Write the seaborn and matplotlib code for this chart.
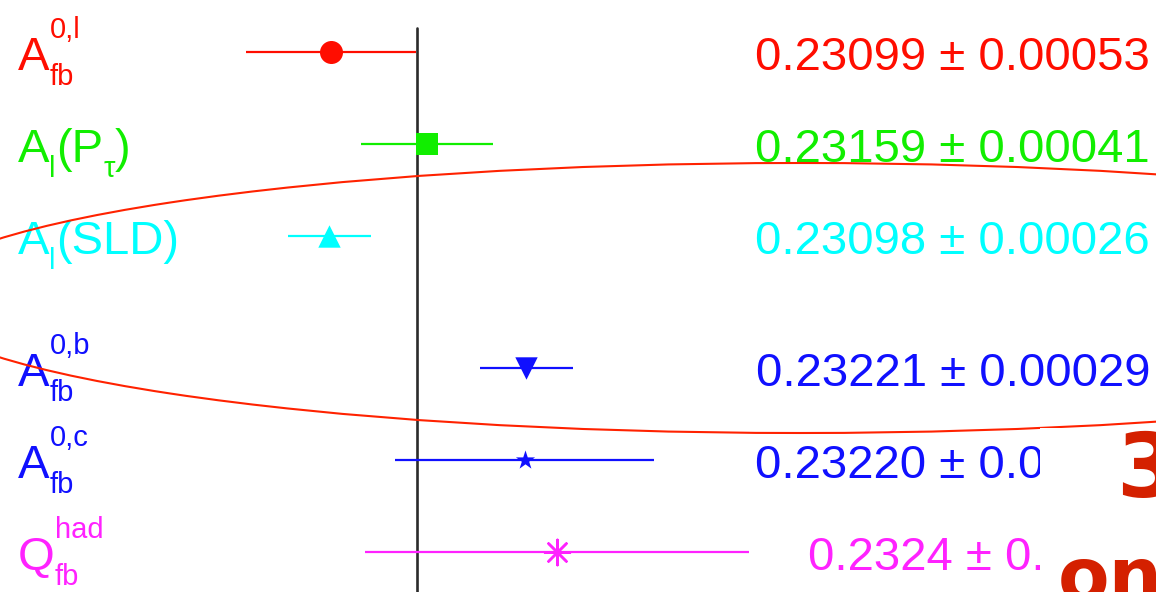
import numpy as np
import pandas as pd
import matplotlib
matplotlib.use("Agg")
import matplotlib.pyplot as plt
import matplotlib.transforms as mtransforms
from matplotlib.patches import Ellipse, Rectangle
import seaborn as sns

# sin^2(theta_eff^lept) from the individual asymmetry measurements.
# Each label is a list of (text, role) pieces: "n" normal, "sub", "sup".
labels = [
    [("A", "n"), ("fb", "sub"), ("0,l", "sup")],
    [("A", "n"), ("l", "sub"), ("(P", "n"), ("\u03c4", "sub"), (")", "n")],
    [("A", "n"), ("l", "sub"), ("(SLD)", "n")],
    [("A", "n"), ("fb", "sub"), ("0,b", "sup")],
    [("A", "n"), ("fb", "sub"), ("0,c", "sup")],
    [("Q", "n"), ("fb", "sub"), ("had", "sup")],
]
values = [0.23099, 0.23159, 0.23098, 0.23221, 0.23220, 0.2324]
errors = [0.00053, 0.00041, 0.00026, 0.00029, 0.00081, 0.0012]
decimals = [5, 5, 5, 5, 5, 4]
average = 0.23153

colors = ["#ff0d00", "#11ee00", "#00ffff", "#1010ff", "#1010ff", "#ff22ff"]
markers = ["o", "s", "^", "v", "*", (8, 2, 0)]
sizes = [275, 272, 260, 260, 210, 330]

sns.set_theme(style="white")
plt.rcParams["font.family"] = ["Liberation Sans", "DejaVu Sans"]

W, H, DPI = 1156, 592, 100
fig = plt.figure(figsize=(W / DPI, H / DPI), dpi=DPI)
ax = fig.add_axes([0, 0, 1, 1])
ax.set_axis_off()

# leptonic and hadronic groups separated by a small gap
idx = np.arange(len(values))
ypos = idx + 0.435 * (idx >= 3)
df = pd.DataFrame({"value": values, "error": errors, "y": ypos})

# horizontal scale: 160000 px per unit of sin^2
ax.set_xlim(0.228921, 0.228921 + W / 160000)
ax.set_ylim(5.87, -0.565)

ax.axvline(average, ymin=0, ymax=0.953, color="#2b2b2b", lw=1.9, zorder=1)

for i, row in df.iterrows():
    ax.errorbar(row["value"], row["y"], xerr=row["error"], fmt="none",
                ecolor=colors[i], elinewidth=1.6, capsize=0, zorder=2)
    m = markers[i]
    kw = dict(edgecolor=colors[i], linewidth=0) if m != (8, 2, 0) else dict(linewidth=1.8)
    sns.scatterplot(x=[row["value"]], y=[row["y"]], marker=m, color=colors[i],
                    s=sizes[i], ax=ax, zorder=3, legend=False, **kw)

base = mtransforms.blended_transform_factory(ax.transAxes, ax.transData)
renderer = fig.canvas.get_renderer()
shift = {"n": -18, "sub": -33, "sup": 14}
fsize = {"n": 34, "sub": 21, "sup": 21}


def draw_label(parts, y, color):
    x = 18.0
    sub_x = None
    for text, role in parts:
        start = sub_x if (role == "sup" and sub_x is not None) else x
        tr = mtransforms.offset_copy(base, fig=fig, y=shift[role], units="dots")
        t = ax.text(start / W, y, text, transform=tr, color=color,
                    fontsize=fsize[role], ha="left", va="baseline")
        width = t.get_window_extent(renderer).width
        sub_x = start if role == "sub" else None
        x = max(x, start + width)


for i, row in df.iterrows():
    draw_label(labels[i], row["y"], colors[i])
    txt = f"{row['value']:.{decimals[i]}f} \u00b1 {row['error']:.{decimals[i]}f}"
    tr = mtransforms.offset_copy(base, fig=fig, y=-18, units="dots")
    ax.text(1150 / W, row["y"], txt, transform=tr, color=colors[i],
            fontsize=34, ha="right", va="baseline")

# hand-drawn highlight around the polarisation / SLD and b-quark results
ax.add_patch(Ellipse((800 / W, 1 - 298 / H), 2 * 891 / W, 2 * 135 / H,
                     transform=ax.transAxes, fill=False, edgecolor="#ff2200",
                     lw=1.5, zorder=4, clip_on=False))

# overlapping slide note
ax.add_patch(Rectangle((1040 / W, 0), (W - 1040) / W, 1 - 428 / H,
                       transform=ax.transAxes, facecolor="white", edgecolor="none",
                       zorder=5))
ax.text(1116 / W, 1 - 497 / H, "3", transform=ax.transAxes, color="#d42000",
        fontsize=64, fontweight="bold", family="DejaVu Sans", ha="left",
        va="baseline", zorder=6)
ax.text(1058 / W, 1 - 601 / H, "only", transform=ax.transAxes, color="#d42000",
        fontsize=54, fontweight="bold", family="DejaVu Sans", ha="left",
        va="baseline", zorder=6)

fig.savefig("out.png", dpi=DPI)
